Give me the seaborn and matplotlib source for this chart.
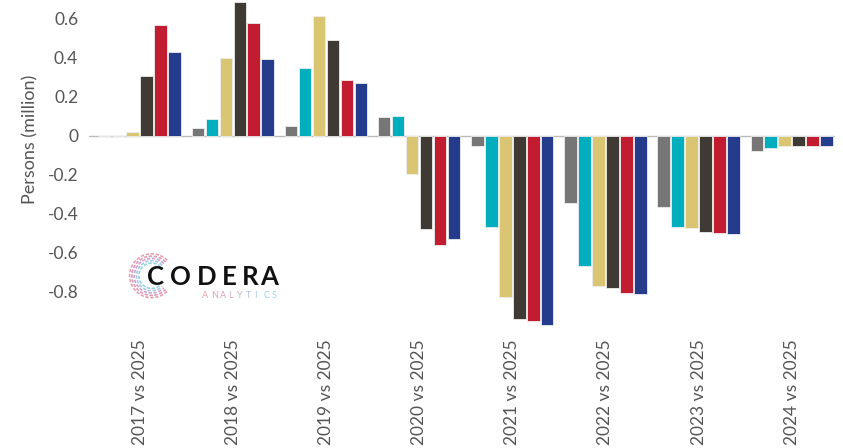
import numpy as np
import pandas as pd
import matplotlib
matplotlib.use("Agg")
import matplotlib.pyplot as plt
from matplotlib.patches import Arc
import seaborn as sns

# -------------------------------------------------------------------
# Data (persons in millions)
# -------------------------------------------------------------------

periods = ["2017 vs 2025", "2018 vs 2025", "2019 vs 2025", "2020 vs 2025",
           "2021 vs 2025", "2022 vs 2025", "2023 vs 2025", "2024 vs 2025"]

series_names = ["s1", "s2", "s3", "s4", "s5", "s6"]

s1 = [0.0, 0.037, 0.050, 0.095, -0.052, -0.343, -0.367, -0.079]
s2 = [0.0, 0.083, 0.345, 0.102, -0.468, -0.668, -0.469, -0.066]
s3 = [0.020, 0.396, 0.616, -0.199, -0.830, -0.772, -0.476, -0.052]
s4 = [0.305, 0.686, 0.488, -0.481, -0.938, -0.782, -0.493, -0.054]
s5 = [0.567, 0.578, 0.283, -0.562, -0.951, -0.806, -0.498, -0.054]
s6 = [0.427, 0.391, 0.268, -0.531, -0.972, -0.814, -0.507, -0.055]

colors = ["#767676", "#00AEBD", "#D9C572", "#3F3A33", "#C11C2F", "#253B8B"]

ytick_values = [0.6, 0.4, 0.2, 0, -0.2, -0.4, -0.6, -0.8]
ytick_labels = ["0.6", "0.4", "0.2", "0", "-0.2", "-0.4", "-0.6", "-0.8"]

# -------------------------------------------------------------------
# Build long table for seaborn
# -------------------------------------------------------------------

all_series = [s1, s2, s3, s4, s5, s6]
rows = []
for name, vals in zip(series_names, all_series):
    for period, v in zip(periods, vals):
        rows.append({"period": period, "series": name, "value": v})
df = pd.DataFrame(rows)

# -------------------------------------------------------------------
# Plot
# -------------------------------------------------------------------

sns.set_style("white")
plt.rcParams["font.family"] = ["Lato", "DejaVu Sans"]

fig = plt.figure(figsize=(8.43, 4.48), dpi=100)
ax = fig.add_axes([0.106, 0.262, 0.884, 0.7356])

sns.barplot(data=df, x="period", y="value", hue="series", order=periods,
            hue_order=series_names, palette=colors, saturation=1, width=0.9, gap=0.1,
            edgecolor="#EEEEEE", linewidth=0.6, legend=False, ax=ax)

ax.axhline(0, color="#BBBBBB", lw=1.0, zorder=0)

ax.set_ylim(-1.0, 0.69)
ax.set_xlim(-0.54, 7.46)
ax.set_yticks(ytick_values)
ax.set_yticklabels(ytick_labels, fontsize=12.5, color="#555555")
ax.tick_params(axis="x", labelrotation=90, labelsize=12.5, labelcolor="#555555", length=0, pad=6)
ax.tick_params(axis="y", length=0, pad=8)

ax.set_xlabel("")
ax.set_ylabel("Persons (million)", fontsize=13, color="#555555")
ax.yaxis.set_label_coords(-0.068, 0.58)

sns.despine(ax=ax, left=True, bottom=True)

# -------------------------------------------------------------------
# Logo
# -------------------------------------------------------------------

logo = fig.add_axes([0.151, 0.333, 0.055, 0.103])
logo.set_xlim(-1, 1)
logo.set_ylim(-1, 1)
logo.axis("off")
arc_cols = ["#E8A0B0", "#DE98B4", "#C7A6D2", "#A9C6E2", "#8FD3E2"]
for i, c in enumerate(arc_cols):
    r = 1.9 - i * 0.2
    logo.add_patch(Arc((0.05, 0), r, r, theta1=45, theta2=315, color=c, lw=1.2,
                       ls=(0, (2, 1))))

word = "CODERA"
word_x = [147, 170, 197, 222, 242, 260]
for ch, px in zip(word, word_x):
    fig.text(px / 843, 1 - 277 / 448, ch, fontsize=18.5, fontweight="bold",
             color="#111111", va="center", ha="left")

sub = "ANALYTICS"
sub_x = np.linspace(202, 272, len(sub))
sub_cols = ["#E7A1AC", "#E3A0AE", "#DDA2B3", "#D4A8BC", "#C5B3CB",
            "#B4C0D8", "#A6CBE1", "#9CD2E5", "#96D6E7"]
for ch, px, c in zip(sub, sub_x, sub_cols):
    fig.text(px / 843, 1 - 296 / 448, ch, fontsize=6.5, color=c,
             va="center", ha="left")

plt.savefig("out.png", dpi=100)
plt.close()
